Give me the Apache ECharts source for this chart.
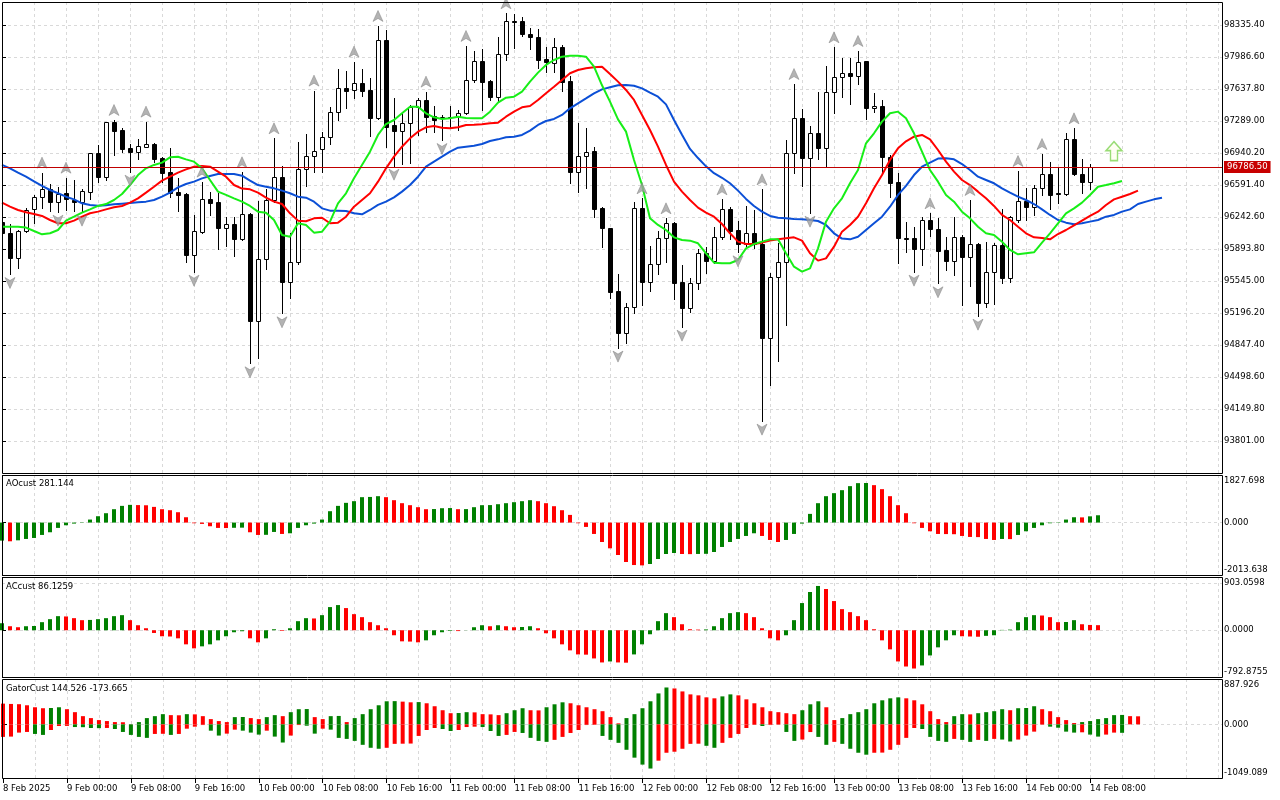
<!DOCTYPE html>
<html>
<head>
<meta charset="utf-8">
<title>BTCUSD H1</title>
<script src="https://cdn.jsdelivr.net/npm/echarts@6/dist/echarts.min.js"></script>
<style>
  html, body { margin: 0; padding: 0; background: #fff; }
  #main { width: 1280px; height: 800px; }
</style>
</head>
<body>
<div id="main"></div>
<script type="text/javascript">
// hourly bars, 8 Feb 16:00 .. 14 Feb 09:00
var timeLabels = ['8 Feb 2025', '9 Feb 00:00', '9 Feb 08:00', '9 Feb 16:00', '10 Feb 00:00', '10 Feb 08:00',
  '10 Feb 16:00', '11 Feb 00:00', '11 Feb 08:00', '11 Feb 16:00', '12 Feb 00:00', '12 Feb 08:00',
  '12 Feb 16:00', '13 Feb 00:00', '13 Feb 08:00', '13 Feb 16:00', '14 Feb 00:00', '14 Feb 08:00'];

var open = [96192,96065,95792,96090,96326,96457,96544,96410,96501,96428,
  96410,96519,96937,96682,97275,97191,96991,96955,97009,97038,
  96886,96730,96519,96493,95829,96076,96435,96406,96127,96163,
  96007,96272,95113,95781,96428,96675,95538,95756,96762,96908,
  96980,97118,97384,97645,97627,97700,97627,97318,98172,97246,
  97184,97264,97445,97518,97344,97318,97336,97336,97373,97736,
  97943,97725,97554,98016,98379,98379,98237,98208,97965,97918,
  98099,97725,96737,96908,96966,96337,96119,95436,94982,95265,
  96337,95538,95727,96010,96181,95534,95247,95520,95847,95767,
  96021,96330,96101,95945,96065,95945,94920,95585,95756,96937,
  97318,96882,97155,96991,97609,97765,97809,97780,97943,97427,
  97456,96900,96621,96010,96010,95890,96210,96108,95883,95767,
  96021,95810,95945,95309,95647,95938,95582,96210,96421,96355,
  96555,96708,96501,96490,97089,96708,96628,96786.5];
var high = [96210,96166,96101,96337,96483,96726,96602,96566,96671,96646,
  96548,96944,97028,97282,97300,97209,97038,97089,97282,97053,
  96900,96991,96664,96501,96265,96628,96512,96501,96239,96239,
  96730,96283,96417,96548,97100,96799,96065,97064,97147,97620,
  97166,97445,97852,97838,97936,97852,97754,98325,98281,97536,
  97373,97464,97536,97609,97453,97355,97453,97409,98107,98056,
  98070,97736,98208,98463,98452,98426,98299,98288,98099,98190,
  98118,97780,97264,97216,97009,96348,96119,95621,95302,96410,
  96446,95927,96090,96228,96192,95719,95574,95890,95912,96130,
  96435,96355,96203,96363,96319,96544,95629,95956,97082,97692,
  97416,97235,97609,97889,98092,97972,97972,98052,97943,97591,
  97518,96919,96719,96192,96137,96239,96283,96228,96021,96239,
  96047,96428,95963,95967,95956,96326,96254,96744,96555,96591,
  96929,96846,96791,97162,97209,96871,96820,96786.5];
var low = [96047,95621,95683,96083,96174,96337,96312,96301,96319,96312,
  96301,96435,96628,96646,96919,96955,96737,96875,97002,96846,
  96628,96464,96312,95756,95647,96065,96265,95894,95927,95821,
  95992,94648,94710,95672,96410,95193,95356,95727,96584,96737,
  96737,97038,97300,97427,97536,97562,97129,97307,97009,96802,
  96820,96828,97137,97173,97173,97082,97220,97191,97365,97718,
  97409,97518,97500,97954,98081,98216,98070,97863,97827,97827,
  97620,96617,96512,96555,96246,95912,95356,94819,94866,95200,
  95284,95440,95621,95756,95345,95047,95211,95454,95629,95738,
  95999,95999,95858,95927,95901,94023,94411,94677,95066,96719,
  96581,96290,96871,96799,97373,97547,97474,97692,97307,97391,
  96719,96457,95738,95858,95647,95719,96036,95520,95665,95611,
  95284,95491,95167,95258,95294,95520,95538,96192,96210,96265,
  96483,96326,96399,96483,96700,96508,96548,96786.5];
var close = [96065,95792,96090,96319,96457,96544,96410,96493,96435,96410,
  96526,96937,96682,97275,97184,96988,96955,97017,97038,96875,
  96726,96501,96483,95829,96090,96435,96399,96127,96163,96007,
  96272,95113,95781,96428,96675,95538,95756,96762,96908,96962,
  97118,97384,97645,97620,97700,97620,97325,98172,97227,97184,
  97264,97445,97518,97336,97300,97336,97329,97373,97736,97943,
  97718,97554,98016,98379,98372,98234,98201,97954,97936,98092,
  97718,96737,96908,96955,96326,96119,95429,94982,95265,96337,
  95538,95727,96010,96174,95527,95247,95520,95847,95767,96021,
  96326,96094,95945,96065,95945,94920,95585,95756,96937,97318,
  96882,97155,96991,97609,97765,97809,97780,97936,97427,97453,
  96900,96617,96010,96003,95890,96210,96108,95876,95767,96021,
  95810,95945,95309,95647,95938,95582,96246,96421,96355,96555,
  96708,96483,96493,97089,96708,96628,96784,96786.5];
var lastPrice = 96786.5;

// alligator lines, already shifted forward (jaw 8, teeth 5, lips 3)
var jaw = [96810,96773,96726,96682,96632,96581,96537,96501,96464,96435,
  96392,96374,96366,96370,96381,96388,96395,96403,96410,96428,
  96464,96508,96566,96602,96628,96664,96690,96711,96711,96711,
  96693,96639,96591,96573,96555,96530,96501,96464,96453,96410,
  96337,96312,96312,96308,96283,96272,96319,96374,96410,96457,
  96519,96591,96682,96791,96846,96900,96955,96998,97009,97020,
  97038,97071,97089,97111,97118,97137,97184,97246,97289,97311,
  97355,97427,97482,97536,97591,97634,97656,97678,97682,97674,
  97645,97598,97554,97470,97300,97140,96985,96885,96795,96720,
  96670,96610,96530,96440,96362,96301,96254,96235,96228,96221,
  96217,96210,96199,96156,96065,96007,95999,96028,96101,96174,
  96246,96355,96483,96581,96700,96791,96835,96879,96882,96871,
  96820,96755,96682,96646,96610,96555,96508,96464,96428,96384,
  96326,96265,96210,96181,96163,96174,96192,96210,96246,96265,
  96301,96326,96384,96410,96435,96453];
var teeth = [96399,96355,96319,96294,96275,96254,96210,96174,96174,96203,
  96246,96283,96301,96326,96348,96363,96399,96446,96508,96573,
  96639,96682,96726,96762,96791,96799,96791,96737,96682,96591,
  96552,96544,96508,96453,96410,96384,96283,96203,96196,96228,
  96235,96174,96181,96246,96355,96428,96501,96628,96773,96900,
  97009,97100,97173,97220,97235,97216,97209,97220,97246,97249,
  97253,97264,97271,97336,97391,97438,97453,97518,97591,97663,
  97736,97809,97845,97863,97874,97881,97801,97718,97627,97518,
  97355,97191,97009,96810,96628,96519,96428,96345,96290,96246,
  96166,96065,95974,95948,95948,95963,95985,95999,96010,96021,
  95985,95847,95767,95792,95919,96083,96156,96246,96392,96555,
  96700,96864,96991,97067,97118,97137,97089,96973,96846,96737,
  96646,96591,96519,96446,96363,96265,96210,96137,96065,96021,
  96014,95999,96057,96101,96152,96203,96254,96301,96374,96435,
  96464,96493,96530];
var lips = [96137,96137,96137,96127,96090,96054,96065,96101,96203,96246,
  96290,96326,96363,96384,96428,96493,96591,96700,96773,96810,
  96835,96893,96900,96871,96846,96773,96646,96519,96483,96446,
  96410,96363,96301,96290,96210,96047,96028,96174,96156,96072,
  96083,96192,96392,96501,96664,96810,96955,97137,97256,97300,
  97373,97445,97445,97373,97329,97311,97318,97336,97322,97318,
  97318,97391,97489,97543,97554,97609,97718,97816,97900,97954,
  97990,98001,98001,97990,97881,97678,97500,97307,97173,96864,
  96591,96228,96156,96101,96021,95992,95985,95956,95847,95745,
  95738,95738,95774,95901,95948,95974,95999,95999,95847,95701,
  95647,95683,95901,96192,96337,96446,96610,96755,97046,97155,
  97282,97373,97391,97318,97155,96955,96755,96628,96483,96410,
  96301,96228,96137,96065,96047,95974,95883,95836,95847,95858,
  95963,96065,96174,96283,96337,96399,96483,96573,96591,96610,
  96635];

// bill williams fractals (bar indexes)
var fractalUp = [5,8,14,18,25,30,34,39,44,47,53,58,63,80,83,90,95,99,104,107,116,121,127,130,134];
var fractalDown = [1,7,10,16,24,31,35,49,55,77,85,92,95,101,114,117,122];
var signalBar = [139];
var signalPrice = [96960];

var ao = [-693,-719,-681,-629,-591,-475,-372,-205,-103,-39,
  -13,116,244,360,514,642,681,672,665,603,
  514,475,398,205,-26,-51,-141,-205,-210,-200,
  -195,-372,-475,-470,-360,-437,-411,-205,-103,-39,
  116,437,642,758,822,976,985,1014,976,860,
  745,668,591,514,520,552,558,514,518,591,
  668,672,706,745,783,822,860,822,745,629,
  475,295,-26,-167,-437,-745,-989,-1245,-1515,-1631,
  -1644,-1592,-1400,-1207,-1168,-1207,-1212,-1205,-1200,-1130,
  -937,-745,-629,-514,-411,-514,-668,-745,-668,-437,
  -39,334,745,1014,1130,1245,1400,1515,1520,1438,
  1284,1014,668,360,-26,-205,-334,-437,-442,-447,
  -514,-552,-558,-629,-668,-629,-635,-475,-334,-205,
  -103,-26,-13,116,205,200,240,281.144];
var ac = [119,68,51,68,72,137,188,239,234,205,
  171,175,188,205,239,256,171,85,34,-46,
  -102,-106,-137,-239,-307,-273,-239,-171,-102,-34,
  -17,-137,-205,-137,17,-11,34,154,205,200,
  256,393,427,376,273,222,137,85,34,-85,
  -188,-192,-205,-171,-85,-34,-11,-14,2,51,
  85,68,85,68,51,55,68,34,-51,-137,
  -239,-341,-410,-414,-478,-546,-529,-546,-550,-410,
  -239,-68,154,290,222,102,17,11,14,68,
  205,290,307,290,222,34,-137,-171,-85,171,
  461,649,751,700,495,358,307,239,171,17,
  -171,-324,-529,-615,-649,-597,-427,-290,-171,-85,
  -102,-106,-110,-95,-85,6,11,137,222,256,
  250,222,137,140,171,102,90,86.1259];
var gatorUp = [406,400,395,374,335,316,320,335,297,239,
  161,123,84,65,45,42,3,45,123,161,
  200,181,178,200,196,161,103,65,45,142,
  145,123,103,142,181,161,239,297,300,142,
  103,161,165,45,123,200,297,374,452,455,
  445,432,436,413,355,277,219,222,239,235,
  200,196,181,219,277,316,277,274,335,393,
  432,413,374,335,297,258,142,20,123,200,
  316,452,606,722,703,645,587,568,529,510,
  548,587,568,490,413,335,258,239,219,200,
  277,393,452,335,84,123,200,239,297,413,
  471,510,529,510,471,393,258,103,45,161,
  200,196,219,239,258,297,277,316,320,355,
  297,258,142,84,26,45,65,103,123,181,
  185,161,158];
var gatorDown = [-245,-239,-161,-148,-187,-206,-110,-32,-30,-52,
  -55,-71,-74,-70,-90,-148,-206,-245,-264,-187,
  -184,-206,-187,-84,-45,-13,-123,-219,-181,-103,
  -123,-161,-200,-123,-239,-355,-219,-13,-26,-181,
  -84,-103,-264,-284,-323,-400,-458,-477,-458,-381,
  -378,-375,-226,-110,-71,-90,-129,-110,-52,-45,
  -52,-129,-226,-206,-148,-168,-264,-323,-342,-303,
  -245,-168,-110,-13,-10,-226,-303,-361,-497,-651,
  -787,-864,-710,-555,-535,-477,-381,-378,-419,-458,
  -361,-264,-187,-71,-10,-32,-13,-6,-148,-323,
  -297,-150,-245,-400,-342,-381,-477,-555,-593,-555,
  -552,-497,-400,-264,-71,-90,-245,-323,-342,-284,
  -303,-342,-303,-323,-284,-297,-335,-297,-219,-142,
  -6,-45,-65,-142,-161,-155,-200,-239,-200,-161,
  -165];

// scale extents as shown on the price scale of each window
var priceMin = 93452.2, priceMax = 98586.1, priceStep = 348.8;
var aoMin = -2013.638, aoMax = 1827.698;
var acMin = -792.8755, acMax = 903.0598;
var gatorMin = -1049.089, gatorMax = 887.926;

var FONT = 'DejaVu Sans';
var FS = 8.5;
var GRIDC = '#d9d9d9';
var UPC = '#008000', DNC = '#ff0000';

function pairs(arr) {
  var out = [];
  for (var i = 0; i < arr.length; i++) out.push([i, arr[i]]);
  return out;
}

var candleData = [];
for (var i = 0; i < open.length; i++) {
  candleData.push([i, open[i], close[i], low[i], high[i]]);
}
var upData = fractalUp.map(function (k) { return [k, high[k]]; });
var downData = fractalDown.map(function (k) { return [k, low[k]]; });
var signalData = signalBar.map(function (k, j) { return [k, signalPrice[j]]; });
var labelTicks = timeLabels.map(function (t, j) { return j * 8; });

function drawCandle(params, api) {
  var k = api.value(0);
  var o = api.coord([k, api.value(1)]);
  var c = api.coord([k, api.value(2)]);
  var lo = api.coord([k, api.value(3)]);
  var hi = api.coord([k, api.value(4)]);
  var px = Math.round(o[0]);
  var top = Math.round(Math.min(o[1], c[1])) + 0.5;
  var bot = Math.round(Math.max(o[1], c[1])) + 0.5;
  var bull = api.value(2) >= api.value(1);
  return {
    type: 'group',
    children: [{
      type: 'line',
      shape: { x1: px + 0.5, y1: Math.round(hi[1]), x2: px + 0.5, y2: Math.round(lo[1]) + 1 },
      style: { stroke: '#000', lineWidth: 1 }
    }, {
      type: 'rect',
      shape: { x: px - 1.5, y: top, width: 4, height: bot - top },
      style: { fill: bull ? '#fff' : '#000', stroke: '#000', lineWidth: 1 }
    }]
  };
}

// green when the bar grows, red when it shrinks
function stepColor(arr, useAbs, first) {
  return function (p) {
    var i = p.dataIndex;
    if (i === 0) return first;
    var a = arr[i], b = arr[i - 1];
    if (useAbs) { a = Math.abs(a); b = Math.abs(b); }
    return a >= b ? UPC : DNC;
  };
}

function edgeLabel(mn, mx, digits) {
  return function (v) {
    var s = v.toFixed(digits);
    if (Math.abs(v - mx) < 1e-6) return '\n' + s;
    if (Math.abs(v - mn) < 1e-6) return s + '\n';
    return s;
  };
}

// window frames: [top, bottom] in px, drawn crisp on half pixels
var frames = [[2, 473], [475, 575], [577, 677], [679, 778]];

var grids = frames.map(function (f) {
  return { left: 2, top: f[0], width: 1220, height: f[1] - f[0], show: true, borderWidth: 0, backgroundColor: '#fff' };
});

var frameRects = frames.map(function (f) {
  return {
    type: 'rect', silent: true, z: 50,
    shape: { x: 2.5, y: f[0] + 0.5, width: 1220, height: f[1] - f[0] },
    style: { fill: 'none', stroke: '#000', lineWidth: 1 }
  };
});

var xAxes = [0, 1, 2, 3].map(function (gi) {
  return {
    type: 'value', gridIndex: gi, min: 0, max: 152.5, interval: 4,
    axisLine: { show: false }, axisTick: { show: false }, axisLabel: { show: false },
    splitLine: { show: true, showMinLine: false, showMaxLine: false, lineStyle: { color: GRIDC, type: [3, 3], width: 1 } }
  };
});
xAxes.push({
  type: 'value', gridIndex: 3, min: 0, max: 152.5, interval: 8, position: 'bottom',
  axisLine: { show: false },
  axisTick: { show: true, length: 5, customValues: labelTicks, lineStyle: { color: '#000' } },
  splitLine: { show: false },
  axisLabel: {
    show: true, align: 'left', margin: 6, color: '#000', fontFamily: FONT, fontSize: FS,
    customValues: labelTicks,
    formatter: function (v) {
      var j = Math.round(v / 8);
      return (v % 8 === 0 && timeLabels[j]) ? timeLabels[j] : '';
    }
  }
});

function subAxis(gi, mn, mx, digits) {
  return {
    type: 'value', gridIndex: gi, position: 'right', min: mn, max: mx, interval: -mn,
    axisLine: { show: false },
    axisTick: { show: true, length: 4, lineStyle: { color: '#000' } },
    axisLabel: {
      margin: 2, color: '#000', fontFamily: FONT, fontSize: FS, lineHeight: 11,
      showMinLabel: true, showMaxLabel: true, formatter: edgeLabel(mn, mx, digits)
    },
    splitLine: { show: true, showMinLine: false, showMaxLine: false, lineStyle: { color: GRIDC, type: [3, 3] } }
  };
}

var yAxes = [{
  type: 'value', gridIndex: 0, position: 'right', min: priceMin, max: priceMax, interval: priceStep,
  axisLine: { show: false },
  axisTick: { show: true, length: 4, lineStyle: { color: '#000' } },
  axisLabel: {
    margin: 2, color: '#000', fontFamily: FONT, fontSize: FS,
    showMinLabel: false, showMaxLabel: false,
    formatter: function (v) { return v.toFixed(2); }
  },
  splitLine: { show: true, showMinLine: false, showMaxLine: false, lineStyle: { color: GRIDC, type: [3, 3] } }
},
  subAxis(1, aoMin, aoMax, 3),
  subAxis(2, acMin, acMax, 4),
  subAxis(3, gatorMin, gatorMax, 3)
];

function panelTitle(text, top) {
  return {
    text: text, left: 6, top: top, padding: 0,
    textStyle: { color: '#000', fontFamily: FONT, fontSize: FS, fontWeight: 'normal' }
  };
}

var arrowUp = 'path://M5,0 L10,11 L5,8 L0,11 Z';
var arrowDown = 'path://M0,0 L5,3 L10,0 L5,11 Z';
var bigArrow = 'path://M8,0 L16,9 L11.5,9 L11.5,19 L4.5,19 L4.5,9 L0,9 Z';

var myChart = echarts.init(document.getElementById('main'), null, { renderer: 'canvas' });

var option = {
  animation: false,
  backgroundColor: '#fff',
  title: [
    panelTitle('AOcust 281.144', 479),
    panelTitle('ACcust 86.1259', 582),
    panelTitle('GatorCust 144.526 -173.665', 684)
  ],
  graphic: { elements: frameRects },
  grid: grids,
  xAxis: xAxes,
  yAxis: yAxes,
  series: [{
    name: 'candles', type: 'custom', xAxisIndex: 0, yAxisIndex: 0,
    renderItem: drawCandle, clip: true, z: 2,
    encode: { x: 0, y: [1, 2, 3, 4] },
    data: candleData
  }, {
    name: 'jaw', type: 'line', xAxisIndex: 0, yAxisIndex: 0, data: pairs(jaw),
    showSymbol: false, symbol: 'none', z: 3, lineStyle: { color: '#0b4fd6', width: 2 }
  }, {
    name: 'teeth', type: 'line', xAxisIndex: 0, yAxisIndex: 0, data: pairs(teeth),
    showSymbol: false, symbol: 'none', z: 3, lineStyle: { color: '#ff0000', width: 2 }
  }, {
    name: 'lips', type: 'line', xAxisIndex: 0, yAxisIndex: 0, data: pairs(lips),
    showSymbol: false, symbol: 'none', z: 3, lineStyle: { color: '#17ee17', width: 2 },
    markLine: {
      silent: true, symbol: ['none', 'none'],
      lineStyle: { color: '#c00000', width: 1, type: 'solid' },
      label: {
        show: true, position: 'end', distance: 2,
        formatter: lastPrice.toFixed(2),
        color: '#fff', backgroundColor: '#c80000', padding: [2, 3, 1, 3],
        fontFamily: FONT, fontSize: FS
      },
      data: [{ yAxis: lastPrice }]
    }
  }, {
    name: 'fractal up', type: 'scatter', xAxisIndex: 0, yAxisIndex: 0, data: upData,
    symbol: arrowUp, symbolSize: [10, 11], symbolOffset: [0, -10], z: 4,
    itemStyle: { color: '#a0a0a0', borderColor: '#7c7c7c', borderWidth: 0.6 }
  }, {
    name: 'fractal down', type: 'scatter', xAxisIndex: 0, yAxisIndex: 0, data: downData,
    symbol: arrowDown, symbolSize: [10, 11], symbolOffset: [0, 9], z: 4,
    itemStyle: { color: '#a0a0a0', borderColor: '#7c7c7c', borderWidth: 0.6 }
  }, {
    name: 'signal', type: 'scatter', xAxisIndex: 0, yAxisIndex: 0, data: signalData,
    symbol: bigArrow, symbolSize: [16, 19], z: 4,
    itemStyle: { color: '#fffff0', borderColor: '#7fd354', borderWidth: 1.5 }
  }, {
    name: 'AO', type: 'bar', xAxisIndex: 1, yAxisIndex: 1, data: pairs(ao),
    barWidth: 4, itemStyle: { color: stepColor(ao, false, UPC) }
  }, {
    name: 'AC', type: 'bar', xAxisIndex: 2, yAxisIndex: 2, data: pairs(ac),
    barWidth: 4, itemStyle: { color: stepColor(ac, false, UPC) }
  }, {
    name: 'Gator up', type: 'bar', xAxisIndex: 3, yAxisIndex: 3, data: pairs(gatorUp),
    barWidth: 4, barGap: '-100%', itemStyle: { color: stepColor(gatorUp, true, DNC) }
  }, {
    name: 'Gator down', type: 'bar', xAxisIndex: 3, yAxisIndex: 3, data: pairs(gatorDown),
    barWidth: 4, barGap: '-100%', itemStyle: { color: stepColor(gatorDown, true, DNC) }
  }]
};

myChart.setOption(option);
</script>
</body>
</html>
